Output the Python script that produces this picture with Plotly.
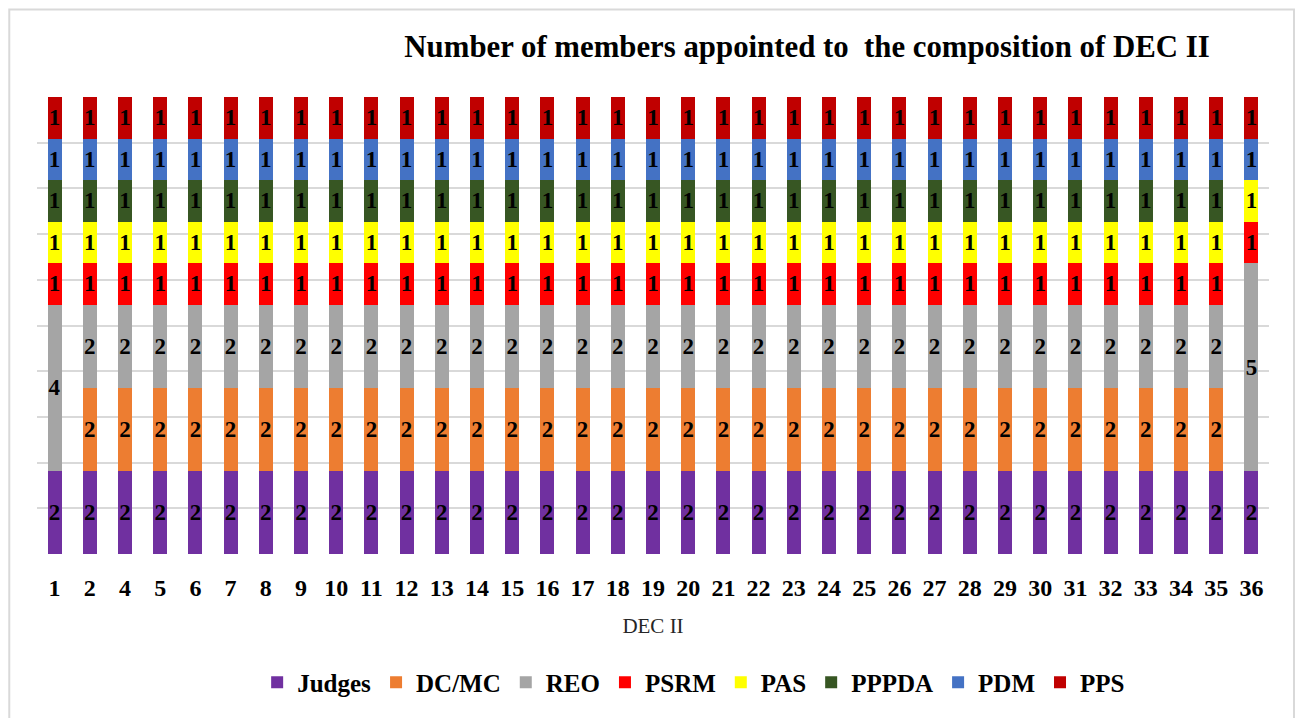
import plotly.graph_objects as go

dec = ["1", "2", "4", "5", "6", "7", "8", "9", "10", "11", "12", "13", "14", "15", "16", "17", "18",
       "19", "20", "21", "22", "23", "24", "25", "26", "27", "28", "29", "30", "31", "32", "33", "34",
       "35", "36"]

judges = [2, 2, 2, 2, 2, 2, 2, 2, 2, 2, 2, 2, 2, 2, 2, 2, 2, 2, 2, 2, 2, 2, 2, 2, 2, 2, 2, 2, 2, 2, 2, 2, 2, 2, 2]
dc_mc = [0, 2, 2, 2, 2, 2, 2, 2, 2, 2, 2, 2, 2, 2, 2, 2, 2, 2, 2, 2, 2, 2, 2, 2, 2, 2, 2, 2, 2, 2, 2, 2, 2, 2, 0]
reo = [4, 2, 2, 2, 2, 2, 2, 2, 2, 2, 2, 2, 2, 2, 2, 2, 2, 2, 2, 2, 2, 2, 2, 2, 2, 2, 2, 2, 2, 2, 2, 2, 2, 2, 5]
psrm = [1, 1, 1, 1, 1, 1, 1, 1, 1, 1, 1, 1, 1, 1, 1, 1, 1, 1, 1, 1, 1, 1, 1, 1, 1, 1, 1, 1, 1, 1, 1, 1, 1, 1, 1]
pas = [1, 1, 1, 1, 1, 1, 1, 1, 1, 1, 1, 1, 1, 1, 1, 1, 1, 1, 1, 1, 1, 1, 1, 1, 1, 1, 1, 1, 1, 1, 1, 1, 1, 1, 1]
pppda = [1, 1, 1, 1, 1, 1, 1, 1, 1, 1, 1, 1, 1, 1, 1, 1, 1, 1, 1, 1, 1, 1, 1, 1, 1, 1, 1, 1, 1, 1, 1, 1, 1, 1, 0]
pdm = [1, 1, 1, 1, 1, 1, 1, 1, 1, 1, 1, 1, 1, 1, 1, 1, 1, 1, 1, 1, 1, 1, 1, 1, 1, 1, 1, 1, 1, 1, 1, 1, 1, 1, 1]
pps = [1, 1, 1, 1, 1, 1, 1, 1, 1, 1, 1, 1, 1, 1, 1, 1, 1, 1, 1, 1, 1, 1, 1, 1, 1, 1, 1, 1, 1, 1, 1, 1, 1, 1, 1]

series = [
    ("Judges", judges, "#7030A0"),
    ("DC/MC", dc_mc, "#ED7D31"),
    ("REO", reo, "#A5A5A5"),
    ("PSRM", psrm, "#FF0000"),
    ("PAS", pas, "#FFFF00"),
    ("PPPDA", pppda, "#375623"),
    ("PDM", pdm, "#4472C4"),
    ("PPS", pps, "#C00000"),
]

SERIF = "Liberation Serif, Times New Roman, serif"

fig = go.Figure()
for name, vals, col in series:
    fig.add_trace(go.Bar(
        x=dec, y=vals, name=name,
        marker=dict(color=col, line=dict(width=0)),
        text=[str(v) if v else "" for v in vals],
        textposition="inside", insidetextanchor="middle",
        textangle=0, constraintext="none",
        textfont=dict(family=SERIF, size=23, color="black", weight="bold"),
        hoverinfo="x+y+name",
    ))

# page body has an 8px margin, so the figure is sized to fit inside it
fig.update_layout(
    width=1287, height=710,
    barmode="stack", bargap=0.6,
    plot_bgcolor="white", paper_bgcolor="white",
    margin=dict(l=29, r=26, t=89, b=162),
    title=dict(text="Number of members appointed to \u00a0the composition of DEC II",
               font=dict(family=SERIF, size=30.8, color="black", weight="bold"),
               xref="paper", x=0.625, xanchor="center",
               yref="container", y=0.9465, yanchor="middle"),
    legend=dict(orientation="h", traceorder="normal",
                x=0.533, xanchor="center", y=-0.281, yanchor="middle",
                font=dict(family=SERIF, size=25, color="black", weight="bold")),
    showlegend=True,
)

fig.update_xaxes(
    type="category",
    tickfont=dict(family=SERIF, size=24, color="black", weight="bold"),
    ticks="", ticklabelstandoff=17,
    showline=False, showgrid=False,
    title=dict(text="DEC II", font=dict(family=SERIF, size=21, color="#262626"), standoff=18),
)
fig.update_yaxes(
    range=[0, 11.001], tick0=0, dtick=1.1,
    showticklabels=False, ticks="",
    showgrid=True, gridcolor="#D9D9D9", gridwidth=1.8,
    zeroline=False, showline=False,
)

# light outline around the whole chart area
fig.add_shape(type="rect", xref="paper", yref="paper",
              x0=-0.0225, x1=1.0203, y0=-0.40, y1=1.1915,
              line=dict(color="#D9D9D9", width=2), layer="below")

fig.write_html("out.html")
